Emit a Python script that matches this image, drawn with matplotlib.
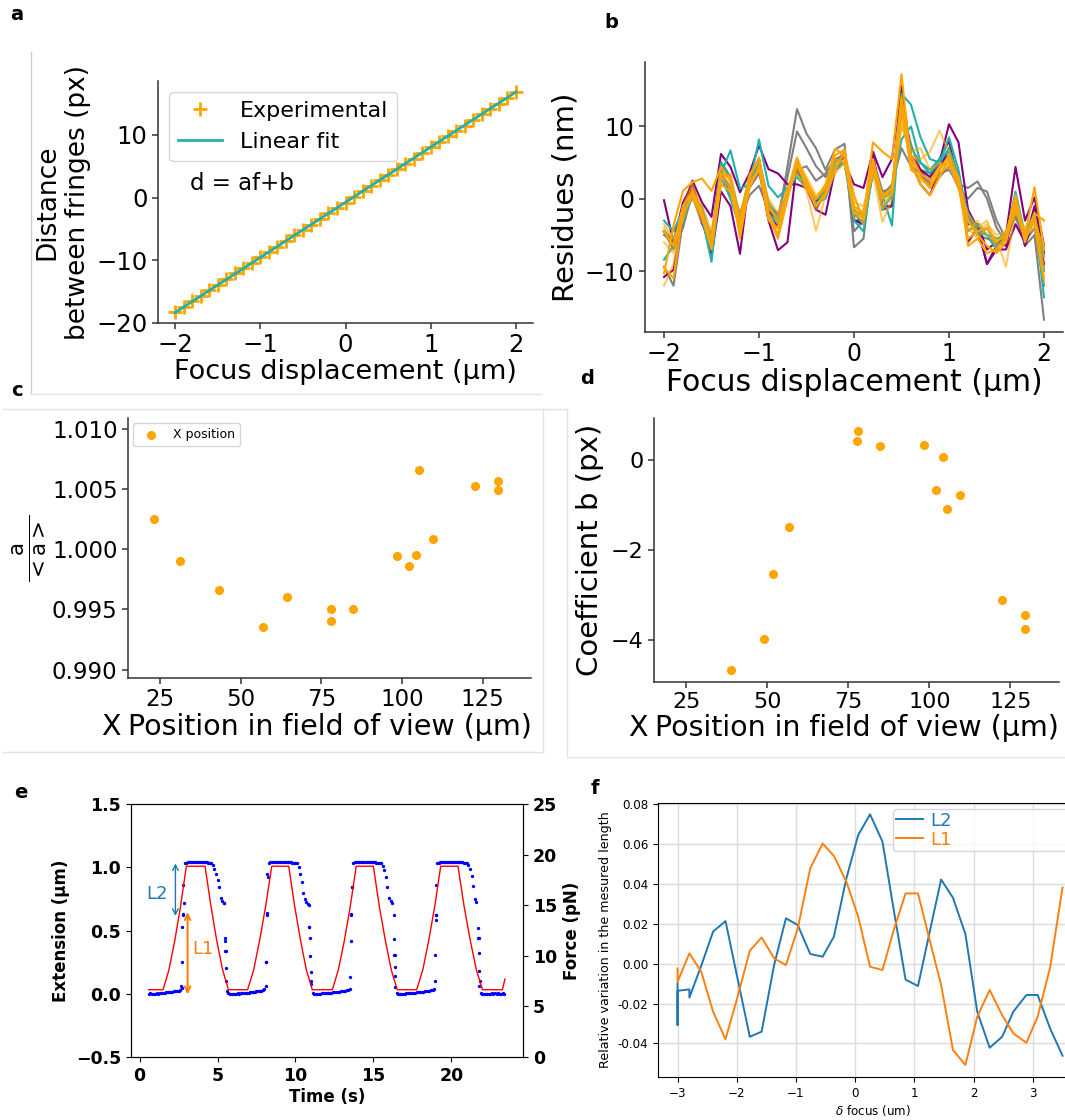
import matplotlib
matplotlib.use('Agg')
import matplotlib.pyplot as plt
from matplotlib.lines import Line2D
import numpy as np

W, H = 1065, 1120

# ---------- panel a : fringe distance vs focus ----------
focus_um = [-2.0, -1.9, -1.8, -1.7, -1.6, -1.5, -1.4, -1.3, -1.2, -1.1, -1.0,
            -0.9, -0.8, -0.7, -0.6, -0.5, -0.4, -0.3, -0.2, -0.1, 0.0,
            0.1, 0.2, 0.3, 0.4, 0.5, 0.6, 0.7, 0.8, 0.9, 1.0,
            1.1, 1.2, 1.3, 1.4, 1.5, 1.6, 1.7, 1.8, 1.9, 2.0]
fringe_px = [-18.3, -17.5, -16.5, -15.7, -14.8, -13.9, -13.0, -12.1, -11.3, -10.4, -9.5,
             -8.7, -7.8, -6.9, -6.0, -5.2, -4.3, -3.4, -2.5, -1.6, -0.8,
             0.1, 1.0, 1.8, 2.8, 3.6, 4.5, 5.4, 6.2, 7.1, 8.0,
             8.9, 9.8, 10.6, 11.5, 12.4, 13.3, 14.1, 15.0, 15.9, 16.8]
fit_f = [-2.0, 2.0]
fit_d = [-18.35, 16.85]

# ---------- panel b : residues of the fits ----------
res_orange = [
    [-10.3, -3.7, 1.1, 2.3, 2.8, 1.1, 4.4, 2.5, -4.0, 3.0, 5.7, -2.0, -5.0, 1.0, 5.7, 2.0, 0.0, 1.5, 6.9, 6.0, -2.0,
     -2.5, 7.8, 6.5, 5.5, 17.2, 5.0, 2.0, 0.5, 3.0, 5.5, 2.5, -6.5, -5.5, -7.5, -7.0, -5.5, -0.5, -5.0, 1.6, -7.0],
    [-4.5, -6.5, -1.0, 1.0, -2.0, -5.5, 3.5, 3.0, -5.5, 2.0, 4.0, -2.5, -5.5, 0.0, 5.0, 1.5, -1.0, 0.5, 4.0, 6.5, 0.5,
     -3.0, 5.5, 0.0, 1.5, 14.0, 6.0, 3.5, 2.5, 4.5, 5.0, 3.0, -3.0, -5.0, -6.5, -7.5, -6.0, -1.0, -6.0, -2.0, -3.0],
    [-9.5, -11.0, -2.0, 0.5, -2.5, -7.0, 2.0, 1.0, -4.5, 1.5, 4.5, -3.0, -4.0, 0.5, 5.5, 2.5, 0.0, 2.0, 6.0, 6.8, -1.0,
     -2.0, 4.0, 0.5, 1.5, 12.5, 4.0, 3.0, 1.5, 4.0, 6.0, 2.0, -5.5, -4.5, -4.0, -6.0, -5.0, 0.5, -5.5, -3.0, -11.0],
]
res_light = [
    [-12.0, -9.0, -1.5, 0.0, -3.0, -6.0, 2.5, 3.5, -2.5, 3.5, 5.0, -1.5, -2.5, 1.0, 4.0, 2.5, -1.0, 1.0, 5.0, 6.0, -1.0,
     -3.5, 4.0, -1.5, 1.0, 10.5, 6.0, 5.5, 6.5, 9.4, 6.5, 3.0, -4.0, -5.5, -4.0, -5.5, -9.4, -1.5, -5.0, -4.0, -11.5],
    [-3.5, -5.5, -2.5, 1.0, -1.0, -4.5, 3.5, 2.0, -2.0, 2.0, 4.5, 0.0, -2.0, 1.5, 3.5, 1.0, -4.4, 0.5, 3.5, 5.0, -0.5,
     -1.0, 3.5, -3.2, 0.0, 10.0, 6.5, 7.0, 4.0, 5.0, 4.5, 1.5, -4.5, -3.0, -5.0, -6.0, -4.5, -2.0, -4.0, -2.5, -8.0],
    [-6.0, -7.5, -1.0, 2.0, -1.5, -6.5, 4.5, 2.5, -3.5, 3.0, 5.5, -0.5, -3.5, 0.0, 5.5, 3.0, 0.5, 1.5, 5.5, 5.0, -2.0,
     -1.5, 5.0, 0.5, 0.5, 11.5, 5.5, 3.0, 1.5, 3.5, 4.5, 2.5, -3.0, -4.5, -3.5, -5.0, -4.5, -0.5, -5.5, -2.0, -9.5],
    [-4.0, -6.0, -3.0, 1.5, -2.0, -5.5, 3.0, 1.5, -3.0, 2.5, 4.0, -1.0, -3.0, 1.0, 4.5, 2.0, -1.5, 1.0, 4.5, 5.5, -2.5,
     -2.5, 4.5, -1.0, 1.0, 12.5, 4.5, 2.5, 2.0, 4.0, 5.0, 1.5, -2.0, -4.0, -3.0, -7.0, -5.0, -1.5, -4.5, -3.5, -6.5],
]
res_teal = [
    [-3.0, -4.5, -1.5, 0.5, -2.5, -8.7, 3.5, 6.7, 1.4, 2.0, 8.2, 1.8, 0.2, 1.5, 3.0, 1.5, -0.5, 0.0, 4.0, 5.0, -2.0,
     -3.5, 3.5, 0.5, -3.7, 14.5, 13.0, 8.5, 5.5, 5.0, 8.5, 4.0, -3.0, -5.0, -4.0, -6.5, -5.5, 1.0, -5.0, -2.0, -13.6],
    [-8.4, -6.5, -2.0, 0.0, -1.0, -6.0, 3.0, 0.0, -4.0, 2.5, 5.0, -2.0, -3.5, 1.0, 3.5, 2.0, 0.0, 0.5, 4.5, 5.0, -3.0,
     -4.5, 4.0, 0.0, 1.0, 8.2, 10.0, 5.0, 3.5, 5.0, 7.0, 3.0, -4.5, -3.5, -5.0, -5.5, -5.0, -1.5, -5.5, -3.0, -10.0],
    [-4.5, -5.5, -3.0, 1.0, -2.0, -7.0, 5.0, 3.0, -2.5, 3.0, 5.5, -0.5, -3.0, 0.5, 4.5, 2.5, -1.0, 1.5, 5.0, 6.0, -1.5,
     -2.5, 5.0, -1.5, 0.5, 12.0, 7.0, 5.0, 4.0, 5.5, 6.5, 3.0, -2.0, -4.5, -5.0, -7.0, -5.0, -0.5, -5.0, -2.5, -8.0],
]
res_purple = [
    [-0.2, -6.0, -1.0, 2.5, -0.5, -2.5, 6.2, 4.4, 0.9, 3.5, 7.4, 4.1, 3.5, 2.0, 2.0, 1.5, -1.5, 1.0, 4.0, 5.0, 2.0,
     1.5, 6.5, 3.0, 5.5, 15.6, 6.0, 3.5, 2.5, 5.0, 10.3, 7.8, -1.5, -4.0, -9.0, -6.5, -5.0, 4.4, -3.0, 0.2, -6.5],
    [-10.8, -9.8, -2.5, 2.0, -2.5, -8.0, 1.0, -1.0, -7.6, 3.0, 4.0, -3.0, -7.1, -6.0, 5.0, 2.5, -1.5, -2.2, 4.0, 6.0, -3.0,
     -3.5, 6.0, -1.5, -1.0, 14.0, 5.0, 2.0, 0.5, 4.0, 7.0, 3.0, -6.0, -4.0, -9.0, -7.0, -7.0, -3.5, -6.0, -1.0, -7.5],
    [-4.5, -6.0, -0.5, 2.0, -3.0, -7.5, 5.0, 3.0, -4.5, 2.0, 5.5, -1.5, -4.0, 1.0, 4.0, 1.5, -0.5, 1.5, 5.0, 6.0, -3.0,
     -3.0, 6.0, -1.0, -1.0, 13.0, 6.0, 4.0, 3.0, 5.5, 8.0, 2.0, -3.5, -3.5, -7.0, -6.0, -6.5, -0.5, -6.5, -2.0, -9.0],
]
res_grey = [
    [-4.5, -7.0, -4.0, 1.0, -2.5, -6.5, 5.0, 2.5, -3.0, 0.5, 1.8, -1.5, -3.0, 4.5, 12.4, 9.0, 7.0, 4.0, 6.8, 7.6, -6.7,
     -5.5, 5.5, 1.0, 1.5, 14.0, 5.5, 4.0, 3.5, 5.0, 6.0, 2.0, 1.5, 2.4, 0.0, -4.0, -6.0, -1.5, -6.5, -5.0, -16.7],
    [-9.4, -12.0, -3.0, 0.5, -3.5, -6.0, 3.5, 1.5, -2.0, 1.5, 3.5, -0.5, -2.5, 3.0, 9.3, 7.0, 4.5, 3.0, 5.0, 6.5, -4.5,
     -3.0, 5.0, 0.0, 1.0, 13.0, 7.5, 4.0, 2.0, 3.0, 4.5, 1.5, 0.0, 1.5, 1.0, -3.0, -5.5, -2.5, -6.0, -4.0, -12.0],
    [-5.0, -6.0, -2.0, 0.5, -2.0, -5.0, 4.0, 0.5, -3.5, 2.5, 4.0, -1.0, -2.0, 0.5, 4.0, 4.5, 2.5, 3.5, 5.5, 6.0, -2.5,
     -2.0, 4.0, 0.5, 2.0, 7.0, 4.5, 3.5, 1.5, 3.5, 4.0, 2.0, -2.5, -5.0, -5.5, -6.0, -5.0, -2.0, -5.5, -3.0, -9.5],
]

# ---------- panels c and d : coefficients vs position ----------
xpos_c = [23.0, 31.1, 43.2, 56.8, 64.4, 77.9, 78.1, 84.8, 98.5, 102.1, 104.2, 105.4, 109.5, 122.6, 129.7, 129.7]
a_ratio = [1.00255, 0.99906, 0.99662, 0.99357, 0.99601, 0.99504, 0.99407, 0.99507,
           0.99947, 0.99864, 0.99953, 1.00662, 1.00083, 1.00529, 1.00568, 1.00490]
xpos_d = [38.9, 48.9, 51.7, 56.8, 77.8, 78.1, 84.8, 98.4, 101.9, 104.1, 105.3, 109.4, 122.4, 129.6, 129.6]
coef_b = [-4.67, -3.98, -2.53, -1.50, 0.42, 0.65, 0.30, 0.32, -0.68, 0.07, -1.09, -0.78, -3.11, -3.46, -3.77]

# ---------- panel e : extension and force vs time ----------
ext_t0, ext_dt = 0.6, 0.1
ext_um = (
    [0.000, 0.002, 0.000, -0.003, 0.000, 0.002, 0.000, 0.003, 0.005, 0.005, 0.008,
     0.010, 0.010, 0.012, 0.015, 0.015, 0.018, 0.020, 0.022, 0.025, 0.030]
    + [0.045, 0.86]
    + [1.030, 1.035, 1.040, 1.040, 1.038, 1.040, 1.040, 1.042, 1.040, 1.040, 1.038, 1.040, 1.040, 1.040, 1.038, 1.036, 1.035]
    + [1.030, 1.015, 0.990, 0.950, 0.900, 0.840]
    + [0.760, 0.730, 0.715, 0.34]
    + [0.020, 0.005, 0.000, 0.000, -0.002, 0.000, 0.000, 0.002, 0.000, 0.003, 0.003, 0.005, 0.005,
       0.008, 0.008, 0.010, 0.012, 0.012, 0.015, 0.018, 0.020, 0.022, 0.025, 0.030, 0.040]
    + [0.25, 0.95]
    + [1.032, 1.038, 1.040, 1.040, 1.040, 1.042, 1.040, 1.040, 1.040, 1.038, 1.040, 1.040, 1.040, 1.040, 1.038, 1.036, 1.035, 1.032]
    + [1.030, 1.000, 0.950, 0.880]
    + [0.800, 0.750, 0.725, 0.710, 0.53]
    + [0.080, 0.005, 0.000, 0.000, 0.000, -0.002, 0.000, 0.002, 0.002, 0.003, 0.005, 0.005, 0.008,
       0.008, 0.010, 0.010, 0.012, 0.015, 0.015, 0.018, 0.020, 0.022, 0.025, 0.030, 0.032]
    + [0.035, 0.84]
    + [1.030, 1.038, 1.040, 1.040, 1.040, 1.042, 1.040, 1.040, 1.040, 1.040, 1.038, 1.040, 1.040, 1.040, 1.038, 1.036, 1.035, 1.032]
    + [1.030, 1.010, 0.980, 0.920, 0.840, 0.760]
    + [0.730, 0.715, 0.31]
    + [0.050, 0.002, 0.000, 0.000, -0.002, 0.000, 0.000, 0.002, 0.003, 0.003, 0.005, 0.005, 0.008,
       0.008, 0.010, 0.010, 0.012, 0.015, 0.015, 0.018, 0.020, 0.022, 0.025, 0.028, 0.032]
    + [0.035, 0.62]
    + [1.030, 1.036, 1.040, 1.040, 1.040, 1.040, 1.042, 1.040, 1.040, 1.040, 1.040, 1.038, 1.040, 1.040,
       1.040, 1.038, 1.038, 1.036, 1.035, 1.032]
    + [1.020, 0.990, 0.930, 0.850]
    + [0.750, 0.725, 0.44]
    + [0.060, 0.005, 0.000, 0.000, 0.000, -0.002, 0.000, 0.000, 0.002, 0.000, 0.002, 0.000, 0.002,
       0.000, 0.000, 0.002, 0.000]
)
jump_t = [2.68, 2.72, 2.74, 2.76, 2.78, 2.82, 5.44, 5.47, 5.49, 5.52, 5.54, 5.57,
          8.12, 8.14, 8.15, 8.17, 8.22, 10.85, 10.90, 10.93, 10.96, 10.98, 11.01,
          13.53, 13.55, 13.57, 13.58, 13.62, 16.33, 16.35, 16.37, 16.39, 16.41,
          18.94, 18.96, 18.99, 19.01, 19.05, 21.72, 21.75, 21.78, 21.80, 21.83]
jump_um = [0.06, 0.25, 0.53, 0.63, 0.62, 0.72, 0.72, 0.44, 0.42, 0.34, 0.20, 0.10,
           0.06, 0.25, 0.62, 0.64, 0.92, 0.70, 0.53, 0.44, 0.30, 0.17, 0.10,
           0.13, 0.42, 0.62, 0.63, 0.84, 0.62, 0.43, 0.31, 0.21, 0.14,
           0.10, 0.31, 0.58, 0.62, 0.86, 0.52, 0.44, 0.32, 0.18, 0.10]
force_t = [0.58, 1.51, 1.88, 2.26, 2.63, 3.0, 4.2, 4.58, 4.95, 5.33, 5.7,
           6.93, 7.32, 7.7, 8.09, 8.48, 9.57, 9.95, 10.33, 10.7, 11.08,
           12.37, 12.75, 13.14, 13.52, 13.9, 15.0, 15.38, 15.77, 16.15, 16.53,
           17.78, 18.17, 18.55, 18.94, 19.32, 20.43, 20.82, 21.22, 21.61, 22.0,
           23.28, 23.44]
force_pn = [6.65, 6.65, 8.6, 11.5, 14.9, 18.85, 18.85, 14.9, 11.5, 8.6, 6.65,
            6.65, 8.6, 11.5, 14.9, 18.85, 18.85, 14.9, 11.5, 8.6, 6.65,
            6.65, 8.6, 11.5, 14.9, 18.85, 18.85, 14.9, 11.5, 8.6, 6.65,
            6.65, 8.6, 11.5, 14.9, 18.85, 18.85, 14.9, 11.5, 8.6, 6.65,
            6.65, 7.7]

# ---------- panel f : relative length variation ----------
l2_focus = [-3.0, -3.0, -3.0, -2.8, -2.8, -2.6, -2.4, -2.19, -1.99, -1.78, -1.58, -1.37, -1.17, -0.97,
            -0.76, -0.55, -0.36, -0.15, 0.05, 0.25, 0.46, 0.65, 0.85, 1.06, 1.25, 1.45, 1.65, 1.86,
            2.06, 2.27, 2.48, 2.67, 2.89, 3.08, 3.29, 3.5]
l2_var = [-0.0099, -0.0308, -0.0136, -0.0129, -0.0170, -0.001, 0.0161, 0.0214, -0.007, -0.0367, -0.0341,
          -0.0007, 0.0228, 0.0194, 0.0049, 0.0035, 0.0136, 0.0428, 0.0646, 0.0750, 0.0613, 0.027, -0.008,
          -0.0112, 0.015, 0.0423, 0.0331, 0.0149, -0.0241, -0.0422, -0.0367, -0.0241, -0.0157, -0.0157,
          -0.0325, -0.0462]
l1_focus = [-3.0, -3.0, -2.8, -2.6, -2.4, -2.19, -1.99, -1.78, -1.58, -1.37, -1.17, -0.97,
            -0.76, -0.55, -0.36, -0.15, 0.05, 0.25, 0.46, 0.65, 0.85, 1.06, 1.25, 1.45, 1.65, 1.86,
            2.06, 2.27, 2.48, 2.67, 2.89, 3.08, 3.29, 3.5]
l1_var = [-0.0024, -0.0091, 0.0052, -0.004, -0.0241, -0.038, -0.017, 0.0065, 0.0132, 0.0027, -0.0007,
          0.0177, 0.0479, 0.0604, 0.0541, 0.0412, 0.0236, -0.0015, -0.0032, 0.0169, 0.0353, 0.0353,
          0.0127, -0.0107, -0.0433, -0.0509, -0.0266, -0.0132, -0.0258, -0.035, -0.0397, -0.0266,
          -0.0019, 0.0383]


def box(l, t, r, b):
    return [l / W, 1 - b / H, (r - l) / W, (b - t) / H]


def clean(ax, size):
    ax.spines['top'].set_visible(False)
    ax.spines['right'].set_visible(False)
    for s in ['left', 'bottom']:
        ax.spines[s].set_color('#333333')
        ax.spines[s].set_linewidth(1.1)
    ax.tick_params(labelsize=size, color='#333333', width=1.1, length=4)


def position_label(ax, size):
    # "X" sits to the left of a centred "Position ..." label
    ax.set_xlabel('Position in field of view (µm)', fontsize=size, labelpad=1)
    ax.annotate('X', xy=(0, 0), xycoords=ax.xaxis.label, xytext=(-5, 0),
                textcoords='offset points', ha='right', va='bottom', fontsize=size)


fig = plt.figure(figsize=(W / 100, H / 100), dpi=100)

# faint frames left over from the pasted panels
def fline(x0, y0, x1, y1, c='#e3e3e3'):
    fig.add_artist(Line2D([x0 / W, x1 / W], [1 - y0 / H, 1 - y1 / H],
                          transform=fig.transFigure, color=c, lw=1))

fline(31, 52, 31, 394, '#cfcfcf')
fline(31, 394, 541, 394)
fline(3, 409, 567, 409)
fline(543, 409, 543, 752)
fline(3, 752, 543, 752)
fline(567, 410, 567, 757)
fline(567, 757, 1065, 757)

# panel letters
for lab, x, y in [('a', 17, 15), ('b', 611, 23), ('c', 17, 390),
                  ('d', 587, 379), ('e', 21, 792), ('f', 595, 788)]:
    fig.text(x / W, 1 - y / H, lab, fontsize=14, fontweight='bold', ha='center', va='center')

# ---- a ----
ax = fig.add_axes(box(158, 81, 533, 323))
ax.plot(focus_um, fringe_px, '+', color='orange', ms=10, mew=2, label='Experimental')
ax.plot(fit_f, fit_d, '-', color='lightseagreen', lw=2, label='Linear fit')
ax.set_xlim(-2.2, 2.2)
ax.set_ylim(-20.0, 18.6)
ax.set_xticks([-2, -1, 0, 1, 2])
ax.set_yticks([-20, -10, 0, 10])
clean(ax, 17.5)
ax.set_xlabel('Focus displacement (µm)', fontsize=19.5, labelpad=1)
ax.set_ylabel('Distance\nbetween fringes (px)', fontsize=19, labelpad=4)
ax.legend(loc='upper left', fontsize=16)
ax.text(-1.83, 2.3, 'd = af+b', fontsize=16.5, va='center')

# ---- b ----
ax = fig.add_axes(box(645, 62, 1063, 332))
groups = [(res_grey, 'grey', 1.0), (res_purple, 'purple', 1.0), (res_teal, 'lightseagreen', 1.0),
          (res_light, 'orange', 0.6), (res_orange, 'orange', 1.0)]
for lines, col, al in groups:
    for vals in lines:
        ax.plot(focus_um, vals, color=col, alpha=al, lw=1.5)
ax.set_xlim(-2.2, 2.2)
ax.set_ylim(-18.4, 18.9)
ax.set_xticks([-2, -1, 0, 1, 2])
ax.set_yticks([-10, 0, 10])
clean(ax, 17)
ax.set_xlabel('Focus displacement (µm)', fontsize=21.5, labelpad=1)
ax.set_ylabel('Residues (nm)', fontsize=21, labelpad=4)

# ---- c ----
ax = fig.add_axes(box(128, 418, 531, 678))
ax.scatter(xpos_c, a_ratio, s=30, color='orange', label='X position')
ax.set_xlim(15, 140)
ax.set_ylim(0.9893, 1.0109)
ax.set_xticks([25, 50, 75, 100, 125])
ax.set_yticks([0.990, 0.995, 1.000, 1.005, 1.010])
ax.yaxis.set_major_formatter(plt.FormatStrFormatter('%.3f'))
clean(ax, 16.5)
position_label(ax, 20.5)
ax.set_ylabel(r'$\frac{\mathrm{a}}{<\mathrm{a}>}$', fontsize=22, labelpad=2)
ax.legend(loc='upper left', fontsize=9, borderaxespad=0.4)

# ---- d ----
ax = fig.add_axes(box(654, 418, 1059, 682))
ax.scatter(xpos_d, coef_b, s=30, color='orange')
ax.set_xlim(15, 140)
ax.set_ylim(-4.94, 0.93)
ax.set_xticks([25, 50, 75, 100, 125])
ax.set_yticks([-4, -2, 0])
clean(ax, 16)
position_label(ax, 20.5)
ax.set_ylabel('Coefficient b (px)', fontsize=21, labelpad=5)

# ---- e ----
ax = fig.add_axes(box(131, 804, 523, 1057))
ext_t = ext_t0 + ext_dt * np.arange(len(ext_um))
ax.plot(ext_t, ext_um, '.', color='blue', ms=2.8)
ax.plot(jump_t, jump_um, '.', color='blue', ms=2.8)
ax.set_xlim(-0.55, 24.6)
ax.set_ylim(-0.5, 1.5)
ax.set_xticks([0, 5, 10, 15, 20])
ax.set_yticks([-0.5, 0.0, 0.5, 1.0, 1.5])
ax.tick_params(labelsize=12.5)
for t in ax.get_xticklabels() + ax.get_yticklabels():
    t.set_fontweight('bold')
ax.set_xlabel('Time (s)', fontsize=12, fontweight='bold', labelpad=2)
ax.set_ylabel('Extension (µm)', fontsize=12, fontweight='bold')
ax.annotate('', xy=(2.3, 1.03), xytext=(2.3, 0.615),
            arrowprops=dict(arrowstyle='<->', color='#1f77b4', lw=1, shrinkA=0, shrinkB=0))
ax.annotate('', xy=(3.08, 0.645), xytext=(3.08, -0.005),
            arrowprops=dict(arrowstyle='<->', color='#ff7f0e', lw=1.5, shrinkA=0, shrinkB=0))
ax.text(1.15, 0.79, 'L2', color='#1f77b4', fontsize=13, ha='center', va='center')
ax.text(4.05, 0.35, 'L1', color='#ff7f0e', fontsize=13, ha='center', va='center')
ax2 = ax.twinx()
ax2.plot(force_t, force_pn, color='red', lw=1)
ax2.set_ylim(0, 25)
ax2.set_yticks([0, 5, 10, 15, 20, 25])
ax2.tick_params(labelsize=12.5)
for t in ax2.get_yticklabels():
    t.set_fontweight('bold')
ax2.set_ylabel('Force (pN)', fontsize=12, fontweight='bold')

# ---- f ----
ax = fig.add_axes(box(658, 803, 1088, 1077))
ax.plot(l2_focus, l2_var, color='#1f77b4', lw=1.4, label='L2')
ax.plot(l1_focus, l1_var, color='#ff7f0e', lw=1.4, label='L1')
ax.set_xlim(-3.33, 3.93)
ax.set_ylim(-0.0569, 0.0807)
ax.set_xticks([-3, -2, -1, 0, 1, 2, 3])
ax.set_yticks([-0.04, -0.02, 0.0, 0.02, 0.04, 0.06, 0.08])
ax.yaxis.set_major_formatter(plt.FormatStrFormatter('%.2f'))
ax.grid(True, color='#dcdcdc', lw=1)
ax.set_axisbelow(True)
ax.tick_params(labelsize=8.6)
ax.set_xlabel(r'$\delta$ focus (um)', fontsize=8.6, labelpad=2)
ax.set_ylabel('Relative variation in the mesured length', fontsize=9.1)
ax.legend(loc='upper left', bbox_to_anchor=(0.5465, 0.8285, 0.6, 0.15), mode='expand',
          fontsize=13, labelcolor='linecolor', handlelength=1.5, handletextpad=0.4,
          labelspacing=0.05, borderpad=0.15, borderaxespad=0)

fig.savefig('out.png', dpi=100)
